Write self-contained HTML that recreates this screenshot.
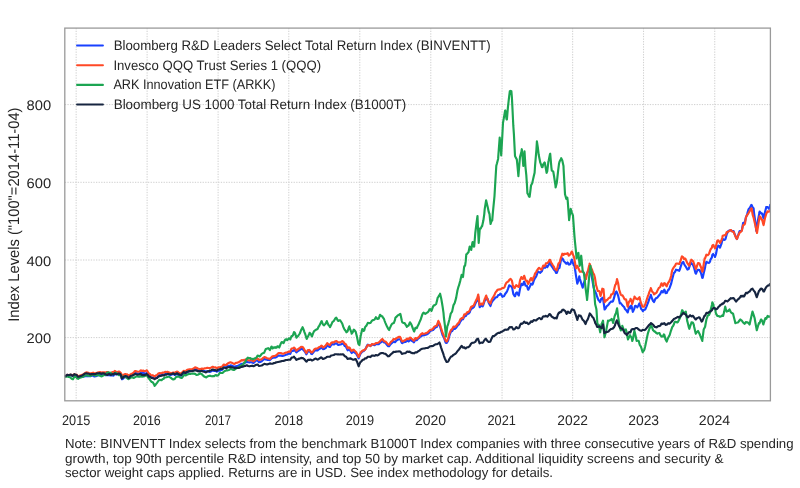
<!DOCTYPE html>
<html><head><meta charset="utf-8"><title>Index Levels</title><style>html,body{margin:0;padding:0;background:#fff;width:800px;height:488px;overflow:hidden}svg{display:block}text{font-family:"Liberation Sans", "DejaVu Sans", sans-serif;fill:#262626;text-rendering:geometricPrecision}</style></head><body>
<svg width="800" height="488" viewBox="0 0 800 488">
<rect width="800" height="488" fill="#fff"/>
<g stroke="#cfcfcf" stroke-width="1" stroke-dasharray="1.3 1.3" fill="none"><line x1="76.15" y1="28.1" x2="76.15" y2="400.8"/><line x1="147.10" y1="28.1" x2="147.10" y2="400.8"/><line x1="218.10" y1="28.1" x2="218.10" y2="400.8"/><line x1="288.80" y1="28.1" x2="288.80" y2="400.8"/><line x1="359.80" y1="28.1" x2="359.80" y2="400.8"/><line x1="430.80" y1="28.1" x2="430.80" y2="400.8"/><line x1="502.05" y1="28.1" x2="502.05" y2="400.8"/><line x1="572.66" y1="28.1" x2="572.66" y2="400.8"/><line x1="643.55" y1="28.1" x2="643.55" y2="400.8"/><line x1="714.76" y1="28.1" x2="714.76" y2="400.8"/><line x1="64.8" y1="104.6" x2="770.4" y2="104.6"/><line x1="64.8" y1="182.3" x2="770.4" y2="182.3"/><line x1="64.8" y1="260.0" x2="770.4" y2="260.0"/><line x1="64.8" y1="337.6" x2="770.4" y2="337.6"/></g>
<defs><clipPath id="cp"><rect x="64.8" y="28.1" width="705.60" height="372.70"/></clipPath></defs>
<g fill="none" stroke-width="2.15" stroke-linejoin="round" stroke-linecap="round" clip-path="url(#cp)">
<polyline stroke="#1941ff" points="64.5,376.2 64.5,376.2 65.9,376.3 66.0,376.0 67.2,374.9 68.6,375.5 69.9,375.5 70.0,375.5 71.3,375.4 72.7,375.7 74.0,375.2 74.0,375.2 75.4,375.7 76.7,376.0 77.0,376.5 78.1,377.6 79.5,377.1 80.8,376.6 81.0,376.5 82.2,376.6 83.5,376.6 84.9,376.3 85.0,376.2 86.3,376.1 87.6,376.3 89.0,376.2 89.0,376.2 90.3,376.3 91.7,375.8 93.1,375.7 94.4,376.5 94.5,376.5 95.8,376.3 97.0,375.8 97.1,375.7 98.5,375.0 99.9,374.9 100.0,375.0 101.2,375.4 102.6,374.6 103.9,374.0 104.0,374.0 105.3,375.1 106.7,375.1 107.5,375.2 108.0,375.1 109.4,375.3 110.5,375.5 110.7,375.5 112.1,375.3 113.5,375.6 114.8,373.7 115.0,373.8 116.2,374.5 117.5,374.2 118.9,373.6 120.0,374.0 120.3,374.2 121.2,375.0 121.6,377.3 122.0,379.2 123.0,378.7 124.3,377.5 125.7,377.0 126.0,377.0 127.1,376.6 128.4,376.9 129.8,376.1 130.0,376.0 131.1,375.3 132.5,375.0 133.9,373.9 135.0,372.8 135.2,372.7 136.6,373.2 137.9,373.6 139.3,373.6 140.0,373.2 140.7,372.6 141.0,372.4 142.0,373.1 143.4,372.5 144.1,373.3 144.7,373.5 146.1,373.4 146.6,373.0 147.5,373.5 148.8,375.3 150.2,376.5 150.3,376.7 151.5,377.8 152.9,377.4 154.3,377.7 154.6,378.0 155.6,377.7 157.0,377.9 158.3,376.0 159.5,375.2 159.7,375.1 161.1,374.9 162.4,374.2 163.8,375.0 165.1,374.0 165.6,374.0 166.5,374.2 167.9,373.6 169.2,374.7 170.6,375.0 171.7,374.6 171.9,374.5 173.3,373.8 174.7,374.9 174.8,374.9 176.0,374.4 176.7,374.1 177.2,373.9 177.4,374.0 178.7,375.3 180.1,375.7 181.3,375.7 181.5,375.5 182.8,374.1 183.8,373.1 184.1,373.2 184.2,373.2 185.5,373.7 186.9,372.5 188.3,371.7 188.4,371.6 189.6,371.2 191.0,370.8 192.3,371.0 192.7,370.7 193.7,370.2 195.1,369.2 196.4,369.5 197.8,370.3 198.4,370.5 199.1,370.8 200.5,370.7 201.9,370.8 203.2,371.1 204.2,371.0 204.6,371.0 205.9,371.8 207.3,371.3 208.7,371.5 209.9,371.9 210.0,371.8 211.4,371.2 212.7,370.4 214.1,370.9 215.5,370.9 215.6,370.8 216.8,371.7 218.2,370.8 219.0,370.6 219.5,370.7 220.0,370.7 220.9,370.1 222.3,369.8 223.6,367.6 225.0,367.3 226.3,367.0 227.3,366.2 227.7,366.1 229.1,365.9 230.4,365.4 231.8,365.6 233.0,366.2 233.1,366.2 234.5,366.8 235.9,366.4 237.2,366.1 238.6,365.4 238.8,365.4 239.9,364.7 241.3,364.1 242.0,363.8 242.7,364.1 244.0,363.3 245.4,362.6 246.1,362.1 246.7,361.7 248.1,362.3 249.5,362.4 250.2,362.2 250.8,362.3 252.2,362.4 253.5,363.0 253.5,363.0 254.9,361.7 256.3,360.5 257.6,360.5 257.6,360.5 259.0,362.2 260.3,361.9 261.7,361.3 262.5,360.5 263.1,360.0 264.4,358.9 265.8,359.5 265.8,359.5 267.1,359.8 268.5,359.8 269.9,360.1 269.9,360.1 271.2,358.7 272.4,357.8 272.6,357.9 273.9,357.3 275.0,357.6 275.3,357.4 276.7,356.9 278.0,355.8 278.6,355.5 279.4,355.6 280.7,355.5 282.1,355.9 282.3,356.0 283.5,355.7 284.8,355.3 286.2,354.6 287.2,354.5 287.5,354.3 288.9,353.5 290.3,353.9 290.9,352.3 291.6,350.9 293.0,350.9 294.0,350.0 294.3,350.1 295.7,351.5 296.4,352.4 297.1,351.7 298.4,350.8 299.5,350.1 299.8,350.0 301.1,348.7 302.5,349.1 302.6,349.0 303.9,350.6 305.2,352.1 306.3,354.3 306.6,354.0 307.9,351.5 309.3,351.4 309.4,351.3 310.7,352.6 311.2,353.7 312.0,354.1 313.4,352.4 314.3,351.0 314.7,350.7 316.1,350.1 317.5,350.5 318.0,350.0 318.8,349.2 320.2,348.5 321.5,347.4 321.7,347.5 322.9,349.2 324.1,349.0 324.3,348.8 325.6,348.1 327.0,346.0 327.2,345.7 328.3,346.1 329.7,347.0 330.0,346.9 331.1,345.0 332.4,344.1 333.0,344.3 333.8,344.5 335.1,343.6 336.3,343.3 336.5,343.3 337.9,344.8 339.0,344.8 339.2,344.7 340.6,344.5 341.9,344.0 342.1,343.7 343.3,343.5 344.7,346.0 345.0,346.0 346.0,346.7 347.4,349.7 347.7,350.3 348.7,349.7 349.7,349.7 350.1,350.5 351.5,352.8 351.7,353.0 352.8,351.5 353.7,351.5 354.2,352.3 355.5,353.2 356.3,353.8 356.9,355.0 358.3,357.6 358.6,358.3 359.6,355.9 360.7,353.3 361.0,353.1 362.3,351.5 363.0,351.0 363.7,351.1 365.0,349.8 365.1,349.6 366.4,347.3 367.0,345.7 367.8,344.6 369.1,345.4 370.3,345.7 370.5,346.0 371.9,344.4 373.2,344.8 373.7,345.0 374.6,345.2 375.9,343.9 377.0,344.2 377.3,344.2 378.7,344.2 379.7,343.3 380.0,342.8 381.4,342.0 382.3,341.0 382.7,341.2 383.1,341.5 384.1,342.5 385.5,342.8 386.2,343.8 386.8,344.7 388.2,346.2 389.2,346.2 389.5,345.7 390.9,343.9 392.3,342.7 392.3,342.7 393.6,341.5 395.0,342.2 396.2,340.8 396.3,340.8 397.7,339.6 399.1,339.2 400.0,339.2 400.4,339.4 401.8,342.9 402.3,343.1 403.1,342.5 404.5,341.9 405.4,341.9 405.9,341.7 407.2,340.5 408.5,341.3 408.6,341.4 409.9,340.0 410.8,340.0 411.3,340.5 412.7,341.2 413.8,342.3 414.0,342.2 415.4,339.6 416.7,340.2 416.9,340.0 418.1,338.5 419.5,337.6 420.0,336.9 420.8,336.4 422.2,335.3 423.1,335.4 423.5,335.1 424.9,335.1 426.2,334.6 426.3,334.6 427.6,334.0 429.0,332.7 429.2,332.3 430.3,331.1 431.7,330.4 433.1,330.0 433.1,330.0 434.4,328.5 435.8,327.2 436.9,326.9 437.1,326.4 438.4,322.4 438.5,322.7 439.9,326.0 441.0,329.8 441.2,330.4 442.6,335.3 443.8,337.2 443.9,337.5 445.3,341.6 445.7,342.7 446.6,343.0 446.7,342.8 448.0,340.9 448.5,339.0 449.4,335.6 450.7,332.2 451.2,331.5 452.1,331.1 453.5,328.7 454.8,329.0 455.8,328.0 456.2,327.8 457.5,325.7 458.0,325.2 458.9,324.5 460.3,321.5 461.3,320.3 461.6,319.5 463.0,319.3 464.3,316.3 464.6,316.2 465.7,316.1 467.1,314.0 467.9,313.8 468.4,313.7 469.8,312.2 470.3,310.5 471.1,309.1 472.5,307.9 472.8,308.0 473.9,307.0 475.2,304.0 475.2,304.0 476.6,301.1 477.0,301.0 477.9,297.8 478.2,296.5 479.3,304.5 479.7,307.2 480.7,306.3 482.0,305.6 482.6,306.4 483.4,304.8 484.7,300.7 485.0,300.4 486.1,299.4 487.5,298.7 487.5,298.6 488.8,302.9 490.2,305.5 490.5,306.0 491.5,302.8 492.9,300.4 493.0,300.4 494.3,299.0 495.5,297.4 495.6,297.4 497.0,297.2 498.0,295.5 498.3,295.1 499.7,294.7 500.4,293.7 501.1,294.2 502.4,296.8 503.8,296.1 504.1,296.1 505.1,294.0 506.5,292.3 507.1,291.2 507.9,289.1 509.2,285.4 510.2,285.7 510.6,286.3 511.9,286.6 512.7,290.6 513.3,293.9 514.7,296.2 515.1,296.1 516.0,293.2 517.0,292.4 517.4,293.2 518.7,295.5 518.8,295.5 520.1,288.4 521.3,283.8 521.5,284.1 522.8,285.0 523.7,282.6 524.2,281.6 525.5,285.7 525.6,285.7 526.9,285.8 528.0,289.4 528.3,289.7 529.6,287.2 530.5,285.1 531.0,283.7 532.3,284.7 533.0,283.2 533.7,280.9 535.1,277.8 535.4,277.7 536.4,276.0 537.8,271.9 537.9,271.5 539.1,272.1 540.3,272.8 540.5,272.4 541.9,271.2 542.8,268.5 543.2,267.8 544.6,267.7 545.0,267.8 545.9,265.7 547.3,267.2 547.5,266.5 548.7,264.9 549.6,262.3 550.0,262.4 551.4,265.9 552.7,267.7 552.7,267.7 554.1,269.8 555.5,271.4 556.0,273.0 556.8,272.9 558.2,268.9 558.7,268.3 559.5,267.8 560.9,260.4 562.3,258.4 563.3,259.7 563.6,261.0 565.0,262.2 566.3,263.7 566.7,263.7 567.7,262.5 568.7,264.3 569.1,264.6 570.4,264.0 571.8,259.6 572.0,259.7 573.1,263.5 574.5,266.3 574.7,267.0 575.9,275.2 577.2,283.0 577.3,283.7 578.6,279.9 579.3,276.3 579.9,279.0 581.3,283.4 582.7,287.6 582.7,287.7 584.0,282.7 585.3,279.0 585.4,278.8 586.7,274.0 588.1,271.1 589.5,267.9 589.6,267.7 590.8,272.9 592.0,277.7 592.2,279.0 593.5,287.2 594.7,291.0 594.9,290.9 596.3,294.0 596.7,295.4 597.6,298.0 598.4,299.9 599.0,300.5 600.1,302.2 600.3,301.7 601.2,298.8 601.7,298.4 602.9,297.7 603.1,298.8 604.4,308.0 604.6,309.5 605.8,308.0 606.8,306.1 607.1,306.1 608.5,304.7 609.1,303.9 609.9,302.7 611.2,301.5 611.3,301.6 612.6,301.7 613.0,301.1 613.9,298.4 614.7,295.4 615.3,292.9 616.4,291.5 616.7,292.0 618.0,295.3 618.1,295.4 619.4,301.3 619.8,303.3 620.7,303.0 622.1,305.0 622.1,305.0 623.5,306.4 624.3,307.3 624.8,308.7 626.0,310.1 626.2,310.1 627.5,312.2 627.7,312.4 628.9,307.8 629.4,306.7 630.3,308.3 631.1,305.6 631.6,306.1 632.8,311.8 633.0,311.5 634.3,308.6 635.0,306.1 635.7,305.8 637.1,307.0 637.3,307.3 638.4,305.5 639.5,303.3 639.8,304.5 641.1,308.8 641.2,309.0 642.5,310.3 642.9,311.2 643.9,309.9 645.2,309.5 645.2,309.5 646.6,306.4 647.9,302.9 648.0,302.8 649.3,298.8 650.7,295.6 650.8,294.9 652.0,298.5 653.1,301.1 653.4,300.9 654.0,302.0 654.7,300.6 655.0,299.5 656.1,298.1 657.3,297.7 657.5,297.4 658.8,295.7 660.0,294.3 660.2,294.1 661.5,291.2 662.0,291.0 662.9,292.3 664.3,289.7 664.7,290.3 665.6,293.1 666.7,293.0 667.0,292.3 668.3,289.6 668.7,289.7 669.7,287.7 671.1,283.9 671.3,283.0 672.4,278.6 673.3,275.0 673.8,273.3 675.1,271.7 676.0,269.7 676.5,270.0 677.9,270.0 678.0,270.3 679.2,270.8 680.0,269.0 680.6,266.9 681.9,263.2 682.0,263.0 683.3,261.9 684.0,263.7 684.7,265.1 686.0,267.0 686.0,267.0 687.4,269.6 688.7,269.0 688.7,268.9 690.1,264.6 691.3,263.0 691.5,263.6 692.8,264.6 693.3,265.7 694.2,268.2 695.5,273.1 696.0,273.7 696.9,271.3 698.0,269.7 698.3,269.7 699.6,270.0 700.0,271.0 701.0,272.9 702.3,277.9 702.7,277.7 703.7,273.2 705.1,267.5 705.3,265.7 706.4,261.9 707.3,262.3 707.8,262.7 709.1,262.9 710.0,261.7 710.5,259.6 711.9,257.4 712.3,255.0 713.2,254.0 714.6,256.0 715.0,257.0 715.9,254.5 717.3,247.0 718.3,245.6 718.7,245.8 720.0,247.7 721.4,243.9 722.3,240.3 722.7,238.9 724.1,240.0 725.0,239.6 725.5,238.9 726.8,233.9 728.2,231.2 728.3,231.0 729.5,230.5 730.9,230.2 731.0,230.3 732.3,231.3 733.6,231.0 733.6,231.0 735.0,235.0 736.3,238.1 737.0,239.0 737.7,236.7 739.1,232.5 739.7,231.0 740.4,231.2 741.8,230.5 743.0,223.6 743.1,222.9 744.5,222.4 745.0,221.6 745.9,217.4 747.2,214.5 747.6,212.3 748.6,209.2 749.9,207.8 751.3,204.9 751.6,205.0 752.7,207.5 753.6,208.3 754.0,212.6 755.4,222.5 756.3,231.0 756.7,228.8 758.1,219.4 759.5,212.3 759.6,211.6 760.8,212.9 761.6,213.6 762.2,213.5 763.5,218.4 763.6,218.3 764.9,212.6 766.3,207.1 766.3,207.0 767.6,207.1 769.0,208.9 770.3,205.0 770.3,204.9 771.0,205.0"/>
<polyline stroke="#ff4826" points="64.5,376.2 64.5,376.2 65.9,376.2 66.0,376.0 67.2,374.8 68.6,375.1 69.0,375.0 69.9,374.9 71.3,374.9 72.0,375.0 72.7,375.2 74.0,374.4 75.0,374.6 75.4,374.8 76.7,374.7 77.5,375.9 78.1,376.4 79.5,375.8 80.0,375.6 80.8,375.2 81.0,375.2 82.2,374.9 83.5,374.3 84.9,373.1 85.5,372.8 86.3,372.3 87.5,372.5 87.6,372.6 89.0,373.2 89.5,373.5 90.3,373.4 91.7,373.1 92.0,373.0 93.1,372.7 94.4,373.4 95.8,373.3 96.5,373.0 97.1,372.8 98.5,372.3 99.0,372.2 99.9,372.1 101.2,372.6 101.5,372.5 102.6,372.3 103.9,372.2 104.0,372.2 105.0,372.6 105.3,372.7 106.7,372.1 108.0,372.1 109.4,372.9 110.0,373.2 110.7,373.0 112.1,372.3 112.5,372.0 113.5,372.3 114.8,370.9 115.0,371.0 116.2,371.9 117.5,372.0 117.5,372.0 118.9,371.5 120.0,372.2 120.3,372.5 121.2,373.5 121.6,374.9 122.0,376.0 123.0,375.3 124.3,374.3 125.5,374.0 125.7,374.1 127.1,374.3 128.4,375.5 128.5,375.5 129.8,374.9 131.0,374.0 131.1,373.9 132.5,373.5 133.9,372.2 135.0,371.0 135.2,371.0 136.6,371.4 137.9,371.7 138.0,371.8 139.3,371.5 140.0,371.0 140.7,370.4 141.0,370.3 142.0,371.0 143.4,370.6 144.1,371.2 144.7,371.1 146.1,370.8 146.6,370.3 147.5,371.3 148.4,373.0 148.8,373.5 150.2,374.3 150.9,375.2 151.5,375.5 152.7,375.2 152.9,375.3 154.3,376.3 154.6,376.7 155.6,375.7 156.4,375.2 157.0,375.2 158.2,373.7 158.3,373.6 159.7,373.1 161.1,373.4 161.3,373.3 162.4,372.5 163.8,372.7 163.8,372.7 165.1,371.8 166.5,372.0 167.4,371.8 167.9,371.8 169.2,372.6 170.5,373.0 170.6,373.0 171.9,373.1 173.3,372.5 173.6,372.7 174.7,372.7 176.0,372.1 176.7,371.8 177.2,371.6 177.4,371.7 178.7,372.7 180.1,373.2 181.3,373.3 181.5,373.2 182.8,371.8 183.8,370.8 184.1,370.9 184.2,370.9 185.5,371.4 186.9,370.1 188.3,369.5 188.4,369.5 189.6,369.2 191.0,369.2 192.3,369.1 192.7,368.8 193.7,368.4 195.1,367.3 196.4,367.7 197.8,368.5 198.4,368.8 199.1,368.9 200.5,369.0 201.9,368.6 203.2,368.9 204.2,368.5 204.6,368.4 205.9,368.3 207.3,367.8 208.7,368.0 209.9,368.1 210.0,368.0 211.4,367.5 212.7,366.8 214.1,367.5 215.5,367.3 215.6,367.3 216.8,368.3 218.2,367.4 219.0,367.4 219.5,367.4 220.0,367.5 220.9,367.1 222.3,366.6 223.6,364.5 225.0,364.9 226.3,365.0 227.3,363.8 227.7,363.5 229.1,362.8 230.4,362.3 231.8,362.8 233.0,363.4 233.1,363.4 234.5,364.0 235.9,362.9 237.2,362.8 238.6,362.1 238.8,362.1 239.9,361.6 241.3,360.4 242.0,360.1 242.7,360.5 244.0,359.9 245.4,359.6 246.1,359.3 246.7,359.0 248.1,360.3 249.5,360.5 250.2,360.1 250.8,360.1 252.2,360.4 253.5,361.3 253.5,361.3 254.9,360.1 256.3,358.8 257.6,358.4 257.6,358.4 259.0,360.1 260.3,359.6 261.7,359.2 262.5,358.4 263.1,358.0 264.4,357.0 265.8,357.6 265.8,357.6 267.1,358.2 268.5,358.5 269.9,358.9 269.9,358.9 271.2,357.5 272.4,356.4 272.6,356.5 273.9,356.0 275.0,356.0 275.3,355.7 276.7,354.9 278.0,353.5 278.6,353.0 279.4,353.0 280.7,353.0 282.1,353.5 282.3,353.7 283.5,353.7 284.8,353.1 286.2,352.5 287.2,352.4 287.5,352.2 288.9,351.5 290.3,351.6 290.9,350.0 291.6,348.5 293.0,348.3 294.0,347.5 294.3,347.8 295.7,349.4 296.4,350.6 297.1,350.0 298.4,348.9 299.5,348.1 299.8,348.1 301.1,346.8 302.5,347.0 302.6,346.9 303.9,348.7 305.2,351.0 306.3,353.0 306.6,352.6 307.9,350.1 309.3,350.1 309.4,350.0 310.7,351.5 311.2,352.4 312.0,352.5 313.4,350.9 314.3,349.4 314.7,349.1 316.1,348.5 317.5,348.5 318.0,348.1 318.8,347.2 320.2,346.8 321.5,345.6 321.7,345.7 322.9,347.5 324.1,346.9 324.3,346.6 325.6,345.7 327.0,343.5 327.2,343.2 328.3,344.1 329.7,345.0 330.0,345.0 331.1,343.0 332.4,342.3 333.0,342.3 333.8,342.4 335.1,341.4 336.3,341.0 336.5,341.0 337.9,342.2 339.0,342.3 339.2,342.3 340.6,342.3 341.9,341.2 342.1,341.0 343.3,341.6 344.7,343.8 345.0,343.7 346.0,344.3 347.4,347.7 347.7,348.3 348.7,347.4 349.7,347.7 350.1,348.7 351.5,350.8 351.7,351.0 352.8,349.9 353.7,349.7 354.2,350.4 355.5,351.5 356.3,352.3 356.9,353.4 358.3,356.4 358.6,357.0 359.6,354.5 360.7,352.3 361.0,352.2 362.3,350.8 363.0,350.3 363.7,350.5 365.0,349.7 365.1,349.6 366.4,347.5 367.0,346.3 367.8,345.1 369.1,345.4 370.3,345.7 370.5,345.9 371.9,344.1 373.2,344.4 373.7,344.3 374.6,344.1 375.9,343.0 377.0,343.0 377.3,343.1 378.7,342.4 379.7,341.7 380.0,341.2 381.4,339.8 382.3,339.0 382.7,339.4 383.1,340.0 384.1,341.2 385.5,341.5 386.2,342.3 386.8,343.0 388.2,344.6 389.2,344.6 389.5,344.0 390.9,341.9 392.3,340.8 392.3,340.8 393.6,339.0 395.0,339.3 396.2,338.5 396.3,338.5 397.7,337.4 399.1,336.8 400.0,336.9 400.4,337.5 401.8,340.8 402.3,341.5 403.1,341.2 404.5,340.4 405.4,340.0 405.9,339.6 407.2,338.5 408.5,339.2 408.6,339.3 409.9,337.6 410.8,337.7 411.3,338.5 412.7,339.6 413.8,340.8 414.0,340.6 415.4,338.1 416.7,338.7 416.9,338.5 418.1,337.7 419.5,336.3 420.0,335.4 420.8,334.4 422.2,333.2 423.1,333.8 423.5,333.7 424.9,333.5 426.2,333.1 426.3,333.1 427.6,332.6 429.0,331.1 429.2,330.8 430.3,329.8 431.7,329.6 433.1,328.5 433.1,328.5 434.4,326.7 435.8,325.9 436.9,325.4 437.1,324.7 438.4,320.8 438.5,321.1 439.9,324.2 441.0,328.0 441.2,328.6 442.6,333.1 443.8,335.4 443.9,335.8 445.3,339.8 445.7,340.9 446.6,341.5 446.7,341.4 448.0,339.0 448.5,337.2 449.4,333.6 450.7,330.6 451.2,329.8 452.1,329.3 453.5,326.5 454.8,327.1 455.8,326.1 456.2,325.9 457.5,323.9 458.0,323.4 458.9,322.6 460.3,319.4 461.3,318.5 461.6,318.0 463.0,318.2 464.3,314.4 464.6,314.4 465.7,314.4 467.1,312.3 467.9,312.0 468.4,312.1 469.8,310.3 470.3,308.7 471.1,307.0 472.5,306.1 472.8,306.2 473.9,305.2 475.2,302.1 475.2,302.1 476.6,299.2 477.0,299.0 477.9,295.7 478.2,294.5 479.3,302.5 479.7,305.0 480.7,304.2 482.0,303.6 482.6,304.6 483.4,303.2 484.7,299.0 485.0,298.6 486.1,295.7 486.2,295.5 487.5,299.5 488.1,300.4 488.8,302.0 490.2,303.3 490.5,303.5 491.5,300.0 492.9,297.5 493.0,297.4 494.3,295.3 495.5,292.4 495.6,292.3 497.0,290.7 497.3,290.0 498.3,289.6 499.7,289.4 499.8,289.4 501.1,288.9 502.2,288.1 502.4,288.2 503.8,287.9 504.7,286.9 505.1,285.3 506.5,282.6 506.5,282.6 507.9,281.6 508.4,281.4 509.2,279.9 510.6,278.9 510.6,278.9 511.9,280.7 512.7,284.4 513.3,286.7 514.5,288.1 514.7,288.0 516.0,285.3 516.4,285.1 517.4,286.2 518.7,287.0 518.8,286.9 520.1,280.2 521.3,277.1 521.5,277.7 522.8,278.9 523.1,278.3 524.2,275.8 524.4,276.4 525.5,279.9 526.2,280.8 526.9,280.7 528.0,283.8 528.3,283.9 529.6,281.0 529.9,280.1 531.0,278.0 531.7,279.5 532.3,280.5 533.7,277.0 534.2,276.4 535.1,273.4 536.4,271.9 536.7,270.9 537.8,269.3 539.1,267.8 539.1,267.8 540.5,269.0 541.0,269.7 541.9,269.2 542.8,266.6 543.2,265.5 544.6,266.2 545.0,266.0 545.9,263.4 547.3,263.0 547.3,263.0 548.7,261.7 549.6,259.7 550.0,259.7 551.4,263.1 552.0,263.7 552.7,265.0 554.1,267.2 554.7,269.0 555.5,269.3 556.7,270.3 556.8,270.1 558.2,264.4 558.7,263.0 559.5,263.0 560.9,257.8 561.3,257.0 562.3,253.7 563.6,254.9 564.0,253.7 565.0,253.7 566.3,254.0 566.7,253.7 567.7,253.2 568.7,255.7 569.1,255.4 570.3,254.3 570.4,254.3 571.8,251.5 572.0,251.7 573.1,254.9 574.0,257.0 574.5,259.8 575.9,267.8 576.0,268.3 577.2,265.8 578.0,267.0 578.6,268.8 579.9,271.7 580.0,271.7 581.3,271.7 582.7,271.0 582.7,271.0 584.0,273.3 585.4,277.8 586.0,279.0 586.7,275.1 588.1,270.1 589.5,264.2 589.6,263.7 590.8,267.2 592.0,269.7 592.2,270.3 593.5,274.1 594.0,274.3 594.9,277.5 596.1,285.3 596.3,285.8 597.6,290.5 597.8,290.9 599.0,291.0 599.5,291.5 600.3,295.2 600.6,296.0 601.7,291.5 602.3,288.7 603.1,289.0 603.5,289.2 604.4,299.7 604.6,302.2 605.8,301.0 606.3,300.0 607.1,300.2 608.5,298.3 608.5,298.3 609.9,297.3 610.2,297.7 611.2,294.5 611.3,294.3 612.6,294.1 613.0,293.7 613.9,290.6 614.7,287.0 615.3,284.8 615.9,284.2 616.7,280.8 617.0,279.1 618.0,282.7 618.1,283.0 619.2,289.8 619.4,290.3 620.7,294.4 620.9,294.9 622.1,295.5 622.6,295.4 623.5,297.1 624.3,298.8 624.8,299.4 626.0,299.4 626.2,299.8 627.5,306.1 627.7,306.7 628.8,302.2 628.9,302.0 630.3,300.1 630.5,298.8 631.6,301.2 632.2,303.9 633.0,301.1 634.3,297.3 634.5,296.6 635.7,298.1 636.1,298.8 637.1,298.8 637.8,299.4 638.4,298.5 639.5,297.1 639.8,298.6 640.7,302.2 641.1,303.2 642.4,306.7 642.5,306.6 643.9,306.7 644.0,306.7 645.2,304.5 646.3,301.1 646.6,300.1 647.9,296.0 648.6,294.3 649.3,292.1 650.7,288.8 650.8,288.1 652.0,291.2 652.5,292.1 653.4,292.7 654.0,294.5 654.5,293.7 654.7,293.9 656.1,292.8 656.7,292.3 657.5,290.4 658.8,288.0 659.3,287.7 660.2,287.0 661.3,283.7 661.5,283.3 662.9,285.8 663.3,285.0 664.3,283.1 665.3,283.7 665.6,284.9 666.7,286.3 667.0,285.4 668.3,282.5 668.7,282.3 669.7,280.3 670.7,277.7 671.1,276.0 672.0,271.0 672.4,269.8 673.8,267.2 674.0,267.0 675.1,265.7 676.0,263.7 676.5,263.5 677.9,263.5 678.0,263.7 679.2,263.9 680.0,262.3 680.6,260.6 681.9,256.4 682.0,256.3 683.3,257.3 684.0,259.0 684.7,258.8 685.3,258.5 686.0,260.1 687.3,263.0 687.4,263.2 688.7,265.1 689.3,265.7 690.1,262.6 691.3,259.7 691.5,260.0 692.8,260.9 693.3,261.7 694.2,264.4 695.5,268.2 696.0,269.0 696.9,266.2 698.0,263.0 698.3,263.1 699.6,263.6 700.0,265.0 701.0,267.2 702.3,271.7 702.7,271.0 703.7,264.1 704.7,258.3 705.1,258.4 706.4,254.7 706.7,255.0 707.8,255.1 708.7,254.3 709.1,253.4 710.0,251.0 710.5,249.5 711.9,247.7 712.3,245.6 713.2,245.0 714.6,247.4 715.0,248.3 715.9,246.3 717.3,240.8 718.3,240.3 718.7,240.9 720.0,242.9 721.4,240.4 722.3,237.6 722.7,235.8 724.1,235.4 725.0,235.0 725.5,235.2 726.8,232.0 728.2,231.7 728.3,231.6 729.5,230.8 730.9,230.0 731.7,231.0 732.3,231.5 733.6,231.9 734.3,233.6 735.0,235.4 736.3,238.2 737.0,239.0 737.7,236.8 739.1,233.8 739.7,232.3 740.4,232.2 741.8,230.8 743.0,225.6 743.1,225.2 744.5,224.6 745.0,223.6 745.9,217.6 747.0,215.0 747.2,215.3 748.6,213.0 749.0,212.3 749.9,210.8 751.3,208.3 751.6,208.3 752.7,214.8 753.6,217.6 754.0,219.4 755.4,225.6 756.7,231.8 757.0,233.0 758.1,225.8 759.5,217.2 759.6,216.3 760.8,217.6 761.6,219.6 762.2,220.0 763.5,225.1 763.6,225.0 764.9,218.5 766.3,213.8 766.3,213.6 767.6,211.3 769.0,211.7 769.0,211.6 770.3,210.3 771.0,211.0"/>
<polyline stroke="#1ca552" points="64.5,376.2 64.5,376.2 65.5,376.5 65.9,376.8 67.2,376.2 68.6,377.0 69.0,377.0 69.9,377.2 71.0,378.0 71.3,378.5 72.7,379.2 73.0,379.2 74.0,377.2 75.0,376.2 75.4,376.8 76.7,377.6 77.0,378.2 78.1,378.8 79.5,377.9 80.5,377.5 80.8,377.4 82.2,376.9 83.0,376.8 83.5,376.4 84.9,375.3 85.0,375.2 86.3,375.4 87.0,375.5 87.6,375.6 89.0,375.7 89.0,375.8 90.3,376.0 91.7,375.2 92.0,375.0 93.1,374.7 94.4,375.0 95.8,375.7 96.0,375.5 97.1,374.8 98.5,375.2 99.9,375.6 100.0,375.8 101.2,376.4 102.6,375.9 103.9,375.0 104.0,375.0 105.0,375.0 105.3,375.0 106.7,373.0 108.0,372.4 109.0,372.5 109.4,372.9 110.7,372.9 112.1,374.0 112.5,374.2 113.5,374.3 114.8,373.0 116.0,372.8 116.2,372.9 117.5,374.2 118.9,375.1 119.0,375.2 120.3,375.2 121.0,375.0 121.6,376.2 122.2,377.5 123.0,377.2 124.3,376.7 125.0,376.5 125.7,377.0 127.1,378.1 128.4,379.2 128.5,379.2 129.8,378.4 131.0,377.5 131.1,377.5 132.5,377.4 133.9,377.9 135.0,377.2 135.2,377.1 136.6,376.4 137.5,376.2 137.9,376.6 139.3,376.6 140.0,376.8 140.5,375.2 140.7,375.3 142.0,376.7 143.4,376.3 143.5,376.4 144.7,376.1 146.1,375.3 146.6,374.9 147.5,376.3 148.4,378.0 148.8,378.4 150.2,380.2 150.3,380.4 151.5,381.9 152.7,382.2 152.9,382.5 154.3,384.9 154.6,385.9 155.6,384.7 157.0,382.9 157.0,382.9 158.3,381.0 159.5,379.8 159.7,379.8 161.1,380.2 161.9,380.1 162.4,379.2 163.8,378.7 164.4,377.6 165.1,377.5 166.5,377.3 167.9,376.7 168.1,376.7 169.2,376.8 170.5,377.6 170.6,377.7 171.9,378.7 173.3,379.5 173.3,379.5 174.7,379.0 176.0,377.0 176.0,377.0 177.4,376.6 178.7,376.6 179.0,376.5 180.1,377.5 181.5,377.9 181.7,378.0 182.8,376.7 184.2,374.9 184.6,374.8 185.5,375.5 186.9,374.7 188.0,374.2 188.3,374.1 189.6,373.8 191.0,373.8 192.3,373.7 192.8,373.5 193.7,373.6 195.1,373.9 196.4,374.9 196.5,375.0 197.8,374.7 199.1,374.1 200.2,373.3 200.5,373.6 201.9,374.2 203.0,375.5 203.2,375.7 204.6,376.8 205.9,377.3 206.3,377.3 207.3,376.6 208.7,376.1 209.2,375.8 210.0,375.7 211.4,376.2 212.5,376.3 212.7,376.0 214.1,376.2 215.5,375.2 216.0,375.0 216.8,375.7 218.2,375.2 218.3,375.2 219.5,373.2 219.9,372.8 220.9,372.9 222.3,373.0 223.2,372.4 223.6,371.8 225.0,370.9 226.3,370.5 226.5,370.3 227.7,370.3 229.1,370.0 229.8,369.5 230.4,368.9 231.8,369.3 233.0,369.9 233.1,369.8 234.5,369.8 235.9,368.6 236.3,368.3 237.2,367.9 238.6,367.1 239.6,366.6 239.9,366.4 241.3,365.4 242.7,365.0 242.9,364.6 244.0,363.1 245.3,361.7 245.4,361.5 246.7,359.0 247.8,357.6 248.1,357.9 249.5,358.2 250.2,358.0 250.8,358.7 252.2,358.8 252.7,359.3 253.5,358.9 254.9,358.3 255.2,358.4 256.3,357.7 257.6,355.6 257.6,355.6 259.0,356.1 259.7,356.4 260.3,355.9 261.7,353.9 261.7,353.9 263.1,353.1 264.2,352.7 264.4,352.1 265.8,349.0 265.8,349.0 267.1,348.6 268.3,348.2 268.5,348.4 269.9,350.2 269.9,350.2 271.2,347.0 271.6,346.6 272.6,348.5 273.9,347.4 275.0,347.8 275.3,347.2 276.7,347.7 277.3,346.3 278.0,346.4 279.2,347.5 279.4,347.2 280.7,343.8 281.7,342.0 282.1,342.1 283.5,343.2 283.5,343.2 284.8,340.3 285.4,339.5 286.2,339.2 287.2,340.1 287.5,339.9 288.9,338.3 289.1,338.3 290.3,339.4 290.9,337.7 291.6,336.0 292.1,336.4 293.0,335.1 294.0,332.1 294.3,332.2 295.2,333.4 295.7,335.4 296.4,337.7 297.1,336.9 298.3,335.8 298.4,335.5 299.8,333.5 300.8,330.9 301.1,330.1 302.5,327.6 302.6,327.2 303.9,330.4 304.4,332.1 305.2,334.0 306.6,338.6 306.7,338.9 307.9,336.6 308.1,336.4 309.3,333.7 309.6,332.8 310.7,333.8 311.8,336.4 312.0,336.3 313.4,332.5 314.3,330.9 314.7,330.7 316.1,329.7 317.4,329.1 317.5,329.1 318.8,326.3 319.2,326.0 320.2,323.9 321.5,321.2 321.7,321.1 322.9,324.5 324.1,325.4 324.3,324.9 325.6,323.8 326.8,321.1 327.0,321.6 328.3,324.7 329.7,326.2 330.0,327.2 331.1,325.1 332.4,322.1 333.7,321.0 333.8,321.0 335.1,318.7 336.3,317.7 336.5,317.9 337.9,320.7 338.3,321.0 339.2,320.4 340.3,320.3 340.6,321.0 341.9,323.0 342.3,323.7 343.3,326.9 344.3,329.0 344.7,329.7 346.0,331.2 346.3,332.3 347.4,331.6 347.7,331.0 348.7,327.7 349.3,326.3 350.1,329.3 350.6,330.3 351.5,332.7 351.7,333.7 352.8,332.1 353.7,329.7 354.2,329.8 355.5,331.5 355.7,331.7 356.9,336.5 357.0,337.0 358.3,343.5 358.3,343.7 359.4,345.0 359.6,343.7 360.7,335.7 361.0,334.6 362.3,329.0 362.3,329.0 363.7,330.9 364.3,330.3 365.1,327.1 366.3,325.7 366.4,325.7 367.8,322.9 369.0,323.0 369.1,323.1 370.5,323.0 371.7,321.0 371.9,320.7 373.2,320.0 374.3,319.7 374.6,319.6 375.9,317.2 377.0,318.3 377.3,318.9 378.7,318.6 379.7,315.7 380.0,314.8 381.4,316.1 382.3,316.3 382.7,317.1 384.1,319.2 384.6,320.8 385.5,323.1 386.8,326.1 386.9,326.2 388.2,328.8 389.2,330.0 389.5,328.9 390.9,325.9 391.5,324.6 392.3,323.6 393.6,322.9 393.8,323.1 395.0,319.9 395.4,317.7 396.3,316.9 397.7,315.4 397.7,315.4 399.1,314.7 400.3,313.8 400.4,314.1 401.8,320.4 402.3,322.3 403.1,322.7 404.5,323.2 404.6,323.1 405.9,325.1 406.9,326.9 407.2,326.2 408.6,325.5 409.9,322.4 410.0,322.3 411.3,324.3 412.3,326.9 412.7,328.2 414.0,331.3 414.2,331.5 415.4,327.8 416.2,327.7 416.7,328.2 418.1,325.1 418.5,324.6 419.5,322.1 420.8,319.2 420.8,319.2 422.2,314.8 423.1,313.1 423.5,312.6 424.9,313.7 425.4,313.8 426.3,313.2 427.6,312.4 427.7,312.3 429.0,310.6 429.5,309.2 430.3,309.1 431.5,310.8 431.7,310.3 433.1,306.3 433.8,305.4 434.4,305.5 435.8,304.3 436.2,303.8 437.1,300.2 437.7,297.7 438.5,296.6 439.9,294.2 440.1,293.7 441.2,298.4 442.0,303.0 442.6,306.7 443.5,312.8 443.9,317.5 444.9,325.5 445.3,329.4 446.0,336.5 446.7,330.8 447.4,325.9 448.0,324.7 449.4,319.4 449.8,317.7 450.7,313.7 451.5,312.5 452.1,311.6 453.5,305.0 453.9,304.6 454.8,302.8 456.2,297.6 456.4,296.4 457.5,290.2 458.6,286.3 458.9,285.8 460.3,280.6 460.6,279.2 461.6,274.9 462.9,277.0 463.0,276.8 464.0,268.0 464.3,266.1 465.1,265.7 465.7,261.4 466.3,254.4 467.1,253.8 468.4,252.3 468.5,252.2 469.7,246.5 469.8,246.8 471.1,249.7 471.2,250.0 472.5,242.3 472.6,242.0 473.9,246.7 474.2,246.5 475.2,234.0 475.3,233.0 476.6,222.5 477.5,216.0 477.9,225.8 478.7,243.0 479.3,235.4 479.8,228.5 480.7,228.6 482.0,225.8 482.1,226.2 483.4,220.3 484.3,213.8 484.7,209.1 486.1,200.3 486.1,200.3 487.5,206.2 487.7,207.0 488.8,212.2 489.5,214.0 490.2,220.8 490.6,224.0 491.5,220.9 492.2,220.6 492.9,212.4 494.3,198.1 494.5,196.0 495.6,177.0 496.3,165.7 497.0,163.2 498.1,158.9 498.3,156.1 499.7,137.5 499.7,137.5 501.1,153.3 501.2,155.5 502.4,134.3 503.0,122.8 503.8,118.4 505.1,110.6 505.3,110.4 506.5,119.0 506.9,119.5 507.9,107.6 508.7,100.3 509.2,96.2 509.8,91.3 510.6,90.9 511.4,91.3 511.9,97.6 512.5,109.3 513.3,125.7 513.9,134.1 514.7,149.9 515.0,156.0 516.0,158.1 516.8,159.3 517.4,165.2 518.4,176.2 518.7,172.2 520.0,157.0 520.1,156.5 521.5,151.6 521.8,149.2 522.8,159.9 523.3,166.0 524.2,154.5 524.5,151.4 525.5,167.3 526.3,175.1 526.9,184.0 527.4,193.1 528.3,194.7 529.0,196.5 529.6,196.8 530.8,187.5 531.0,185.4 532.3,182.9 533.0,179.6 533.7,176.6 534.6,172.8 535.1,165.3 536.4,149.8 536.9,141.3 537.8,147.1 538.7,154.8 539.1,156.8 540.3,162.7 540.5,163.0 541.9,167.2 542.5,167.2 543.2,164.3 544.6,162.5 544.8,162.7 545.9,168.8 546.6,172.8 547.3,171.0 548.4,161.6 548.7,160.5 550.0,153.9 550.2,153.7 551.4,167.6 551.8,170.6 552.7,171.1 553.3,171.7 554.1,176.5 555.5,185.9 555.6,187.5 556.8,182.7 557.4,177.4 558.2,170.1 559.0,163.8 559.5,161.8 560.9,158.9 561.2,158.2 562.3,160.5 563.5,166.0 563.6,168.8 565.0,193.9 565.0,194.3 566.3,198.9 567.3,197.6 567.7,200.6 569.1,219.7 569.1,220.2 570.4,211.1 570.7,208.9 571.8,212.3 573.0,215.7 573.1,217.4 574.5,236.7 574.8,240.0 575.9,250.8 576.6,258.5 577.2,254.7 578.4,252.9 578.6,255.0 579.7,265.8 579.9,264.9 581.2,255.7 581.3,256.5 582.7,271.0 582.7,271.4 584.0,273.2 584.0,273.4 585.4,286.5 585.8,289.8 586.7,296.7 587.1,300.0 588.1,289.2 589.0,278.7 589.5,273.7 590.4,265.8 590.8,268.2 592.2,274.5 592.3,275.0 593.5,284.7 593.8,286.1 594.9,301.2 595.1,304.0 596.3,308.7 596.5,310.1 597.4,324.0 597.6,324.0 598.8,324.9 599.0,326.2 600.2,332.3 600.3,331.4 601.6,324.0 601.7,323.8 603.0,320.7 603.1,321.4 604.4,336.3 604.5,337.3 605.8,332.2 606.2,330.4 607.1,325.6 608.0,320.7 608.5,320.9 609.9,320.3 609.9,320.3 611.2,319.5 611.7,318.9 612.6,321.1 613.1,323.0 613.9,319.6 614.5,316.6 615.3,314.3 615.9,313.4 616.7,310.1 617.1,308.3 618.0,315.7 618.0,315.9 619.4,324.9 619.6,326.7 620.7,330.1 620.9,330.4 622.1,326.6 622.3,325.8 623.5,329.0 623.7,330.0 624.8,330.5 625.8,329.4 626.2,330.5 627.5,337.1 628.0,339.4 628.9,337.5 630.1,335.1 630.3,335.7 631.6,337.8 632.3,340.9 633.0,338.6 634.3,331.1 634.4,330.8 635.7,336.2 636.6,340.9 637.1,340.7 638.4,340.8 638.7,340.9 639.8,345.0 640.9,346.6 641.1,347.2 642.5,351.6 642.7,352.3 643.9,350.4 644.4,349.5 645.2,346.2 646.6,339.5 646.6,339.4 647.9,333.3 648.7,330.8 649.3,329.0 650.7,326.3 650.9,325.1 652.0,327.2 653.0,330.1 653.4,330.4 654.7,331.7 655.2,331.6 656.1,332.9 657.3,333.7 657.5,333.2 658.8,333.1 659.5,333.0 660.2,334.9 661.5,336.5 661.6,336.6 662.9,336.5 663.8,334.4 664.3,334.8 665.6,339.6 666.7,341.6 667.0,340.7 668.3,337.3 668.8,336.6 669.7,335.0 671.0,330.5 671.1,330.4 672.4,326.7 673.1,326.0 673.8,324.6 674.6,322.2 675.1,321.7 676.5,322.0 677.3,322.5 677.9,321.9 679.2,319.4 680.0,318.0 680.6,316.1 681.9,311.1 682.2,310.2 683.3,311.8 684.3,313.7 684.7,313.1 685.8,311.6 686.0,312.9 687.2,320.9 687.4,321.6 688.7,326.8 689.4,328.8 690.1,326.4 691.5,322.5 691.5,322.3 692.8,322.5 693.7,324.5 694.2,327.0 695.5,332.8 695.8,333.8 696.9,332.0 698.0,331.0 698.3,331.4 699.6,333.9 700.1,335.3 701.0,337.4 702.3,341.0 702.3,340.7 703.7,329.5 703.7,329.5 705.1,326.8 705.9,322.3 706.4,319.5 707.8,315.6 708.0,315.2 709.1,314.9 710.2,312.3 710.5,310.4 711.9,304.9 712.3,302.3 713.2,304.2 713.8,306.6 714.6,308.3 715.2,309.4 715.9,313.4 717.3,315.9 717.3,315.9 718.7,316.1 720.0,316.8 720.2,316.6 721.4,316.2 722.7,315.2 723.1,315.9 724.1,312.1 725.2,306.6 725.5,308.1 726.7,311.6 726.8,311.4 728.2,311.0 728.8,310.2 729.5,309.4 730.9,312.2 731.0,312.3 732.3,313.3 733.1,313.7 733.6,315.9 735.0,321.6 735.3,323.1 736.3,322.8 737.7,322.5 738.1,322.3 739.1,321.0 740.3,319.5 740.4,319.7 741.8,320.7 742.5,321.6 743.1,322.5 744.5,323.8 744.6,323.8 745.9,322.0 747.2,322.5 747.5,322.3 748.6,323.2 749.6,324.5 749.9,323.0 751.3,316.7 752.5,311.6 752.7,312.2 754.0,316.2 754.6,318.0 755.4,322.7 756.7,329.8 756.8,330.2 758.1,325.7 758.9,323.1 759.5,323.3 760.8,319.8 761.1,319.5 762.2,320.7 763.3,324.5 763.5,324.0 764.9,319.4 765.4,318.0 766.3,318.8 767.6,315.9 767.6,315.9 769.0,316.8 770.3,316.4 770.5,316.6"/>
<polyline stroke="#162540" points="64.5,376.2 64.5,376.2 65.5,375.8 65.9,376.0 67.2,374.9 68.0,375.0 68.6,375.1 69.9,374.7 70.5,374.5 71.3,375.0 72.5,375.8 72.7,375.7 74.0,374.4 74.5,374.2 75.4,374.7 76.0,374.8 76.7,375.0 77.5,376.2 78.1,376.7 79.5,376.5 80.5,376.0 80.8,375.9 82.2,375.4 83.0,375.0 83.5,374.6 84.9,373.6 85.0,373.5 86.3,373.4 87.5,373.6 87.6,373.6 89.0,373.7 90.0,374.2 90.3,374.4 91.7,374.1 93.0,374.0 93.1,374.0 94.4,374.1 95.8,373.9 96.0,373.8 97.1,373.3 98.5,373.2 99.0,373.2 99.9,373.1 101.2,373.8 102.0,373.5 102.6,373.4 103.9,373.3 104.0,373.3 105.0,374.0 105.3,374.3 106.7,374.7 107.5,375.0 108.0,374.4 109.0,373.8 109.4,374.0 110.7,374.9 111.0,375.0 112.1,374.2 113.0,374.0 113.5,374.3 114.8,373.4 115.0,373.5 116.2,374.1 117.5,374.0 117.5,374.0 118.9,373.4 120.0,373.8 120.3,374.1 121.0,375.5 121.6,378.0 121.8,378.5 123.0,377.6 123.5,377.0 124.3,376.5 125.5,376.0 125.7,376.0 127.1,376.6 127.5,377.0 128.4,377.8 128.8,378.0 129.8,376.9 130.5,376.0 131.1,375.7 132.5,375.5 132.5,375.5 133.9,374.8 135.0,374.0 135.2,373.9 136.6,374.4 137.0,374.5 137.9,374.6 139.3,374.3 140.0,374.0 140.7,373.9 141.0,374.0 142.0,375.0 143.4,375.1 143.5,375.2 144.7,374.9 146.1,374.6 146.6,374.0 147.5,374.7 148.8,376.5 149.0,376.7 150.2,376.9 151.5,378.0 152.1,378.0 152.9,378.2 154.3,378.9 154.6,379.2 155.6,378.6 157.0,378.1 157.6,377.3 158.3,376.7 159.7,376.0 161.1,375.9 161.3,375.8 162.4,375.2 163.8,375.5 165.1,374.7 165.6,374.6 166.5,374.6 167.9,373.9 168.7,374.0 169.2,374.2 170.6,374.2 171.9,374.0 172.4,373.7 173.3,373.3 174.7,374.3 174.8,374.3 176.0,373.8 177.0,373.3 177.4,373.5 178.7,374.3 180.1,374.7 181.3,374.9 181.5,374.7 182.8,373.0 183.8,372.0 184.1,372.4 184.2,372.4 185.5,372.9 186.9,372.0 188.0,371.5 188.3,371.4 189.6,371.1 191.0,371.2 192.3,371.1 192.7,370.9 193.7,370.7 195.1,370.3 196.4,370.5 197.0,370.9 197.8,371.1 199.1,371.4 200.5,371.3 201.3,370.9 201.9,371.0 203.2,371.5 204.6,371.8 205.6,372.4 205.9,372.4 207.3,371.4 208.5,371.2 208.7,371.2 210.0,370.5 211.3,370.2 211.4,370.2 212.7,369.5 214.1,370.1 215.0,370.0 215.5,370.2 216.8,370.7 218.2,369.5 218.5,369.5 219.5,369.3 220.0,369.1 220.9,368.7 222.3,368.9 223.6,367.5 225.0,367.7 226.3,368.3 227.3,367.5 227.7,367.3 229.1,367.2 230.4,366.9 231.8,367.2 233.0,367.5 233.1,367.5 234.5,368.1 235.9,367.9 237.2,368.0 238.6,367.8 238.8,367.9 239.9,367.6 241.3,366.9 242.0,366.6 242.7,366.8 244.0,366.1 245.4,365.9 246.7,365.3 247.8,365.8 248.1,366.0 249.5,366.3 250.8,366.0 252.2,365.7 253.5,366.2 253.5,366.2 254.9,365.5 256.3,364.8 257.6,364.6 257.6,364.6 259.0,366.0 260.3,365.8 261.7,365.5 262.5,365.0 263.1,364.6 264.4,363.8 265.8,364.2 265.8,364.2 267.1,364.4 268.5,363.9 269.9,363.4 269.9,363.4 271.2,363.7 272.6,363.7 273.9,363.1 275.0,363.0 275.3,362.7 276.2,362.3 276.7,362.3 278.0,362.0 279.4,361.7 280.7,361.4 282.1,361.0 282.3,361.0 283.5,360.9 284.8,360.4 286.2,360.0 287.5,359.9 288.5,359.8 288.9,359.7 290.3,359.7 291.6,357.6 293.0,357.5 294.0,356.7 294.3,357.1 295.7,358.8 296.4,359.8 297.1,359.4 298.4,358.9 299.5,358.6 299.8,358.6 301.1,357.9 302.5,358.1 302.6,358.0 303.9,358.8 305.2,360.3 306.3,361.7 306.6,361.5 307.9,359.8 309.3,359.9 309.4,359.8 310.7,359.6 312.0,360.5 312.4,360.4 313.4,359.8 314.7,358.9 315.5,358.6 316.1,358.8 317.5,359.6 318.6,359.2 318.8,358.9 320.2,358.0 321.0,357.4 321.5,357.5 322.9,358.9 324.1,358.6 324.3,358.4 325.6,358.0 327.0,356.9 327.2,356.7 328.3,356.7 329.7,356.8 330.0,356.7 331.1,355.5 332.4,355.3 333.7,355.0 333.8,355.0 335.1,354.2 336.5,354.2 337.9,354.5 338.3,354.3 339.2,354.5 340.6,354.4 341.9,354.5 342.1,354.3 343.3,354.3 344.7,356.2 345.0,356.3 346.0,356.7 347.4,358.6 347.7,359.0 348.7,358.6 350.1,358.4 350.3,358.3 351.5,359.0 352.8,359.5 353.0,359.7 354.2,359.6 355.5,359.0 355.7,359.0 356.9,361.5 357.3,362.3 358.3,365.3 358.6,366.3 359.6,363.9 360.3,362.3 361.0,361.7 362.3,360.2 363.0,359.7 363.7,359.7 365.1,358.3 366.3,358.3 366.4,358.2 367.8,356.8 369.1,356.7 370.3,357.0 370.5,357.1 371.9,355.6 373.2,355.6 374.3,355.7 374.6,355.8 375.9,355.0 377.3,355.4 378.3,355.0 378.7,354.8 380.0,353.6 381.4,353.1 382.3,353.0 382.7,353.0 383.1,353.1 384.1,353.7 385.5,353.8 386.2,354.6 386.8,355.2 388.2,356.3 389.2,356.2 389.5,355.8 390.9,354.3 392.3,353.1 392.3,353.1 393.6,351.9 395.0,352.0 396.2,351.5 396.3,351.6 397.7,351.5 399.1,351.4 400.0,351.5 400.4,351.5 401.8,353.8 402.3,353.8 403.1,353.5 404.5,353.2 405.4,353.1 405.9,352.8 407.2,351.5 408.6,352.0 409.2,351.5 409.9,351.8 411.3,352.8 412.3,353.1 412.7,353.0 414.0,353.3 415.4,352.3 415.4,352.3 416.7,352.3 418.1,351.3 419.5,350.6 420.0,350.0 420.8,349.4 422.2,348.7 423.5,348.5 424.6,348.5 424.9,348.3 426.3,348.0 427.6,348.0 429.0,347.1 429.2,346.9 430.3,346.3 431.7,346.1 433.1,345.9 433.8,345.4 434.4,344.9 435.8,344.2 437.1,344.2 437.7,343.8 438.5,343.4 439.5,342.5 439.9,343.6 441.0,347.3 441.2,347.9 442.6,352.0 443.0,352.9 443.9,355.8 444.9,358.7 445.3,359.4 446.6,362.0 446.7,362.0 448.0,361.7 448.5,361.0 449.4,359.0 450.7,357.0 451.2,356.6 452.1,356.3 453.5,354.8 454.0,354.7 454.8,354.2 455.5,353.6 456.2,353.0 457.5,351.1 458.5,350.0 458.9,349.7 460.3,347.6 461.6,345.8 461.7,345.8 463.0,347.7 464.3,347.3 465.2,348.4 465.7,348.5 467.1,347.3 468.4,347.1 469.8,346.0 470.4,344.8 471.1,343.7 472.5,342.7 473.9,342.7 475.2,341.9 475.4,341.7 476.6,339.5 477.9,338.8 478.0,338.7 479.3,342.5 479.6,343.3 480.7,342.8 482.0,342.5 482.6,342.8 483.4,341.8 484.7,339.7 485.7,338.7 486.1,339.2 487.5,341.2 488.8,342.0 490.2,341.7 490.3,341.7 491.5,338.6 492.9,336.1 492.9,336.1 494.3,335.9 495.6,334.9 497.0,333.6 497.0,333.6 498.3,332.8 499.7,332.9 500.0,332.7 501.1,331.9 502.4,331.5 503.3,330.7 503.8,330.5 505.1,329.6 506.5,329.8 506.6,329.8 507.9,329.4 508.2,329.4 509.2,327.6 510.2,327.0 510.6,327.3 511.9,327.0 512.3,327.8 513.3,329.4 514.7,329.1 514.8,329.0 516.0,327.3 516.4,327.0 517.4,328.0 517.6,328.2 518.7,328.1 519.3,327.4 520.1,325.0 520.9,323.7 521.5,324.0 522.5,323.3 522.8,323.4 524.2,321.6 524.2,321.6 525.5,322.9 526.2,322.9 526.9,322.5 528.3,324.1 528.3,324.1 529.6,323.3 530.3,322.5 531.0,321.3 532.3,321.9 532.8,321.2 533.7,320.1 535.1,320.3 535.2,320.4 536.4,320.4 537.3,319.2 537.8,319.0 539.1,318.0 539.3,318.0 540.5,318.6 541.0,319.2 541.9,318.7 542.6,317.1 543.2,316.4 544.6,316.5 544.7,316.5 545.9,315.8 546.7,316.3 547.3,316.7 548.7,315.2 549.2,314.3 550.0,314.1 550.8,315.1 551.4,316.3 552.5,317.1 552.7,317.1 554.1,318.2 554.5,318.4 555.5,317.8 556.6,318.4 556.8,318.0 557.8,314.7 558.2,313.9 559.0,312.6 559.5,312.9 560.0,312.2 560.9,311.6 561.2,312.0 562.3,309.9 563.5,309.7 563.6,310.0 565.0,310.9 565.3,311.1 566.3,313.3 566.7,313.9 567.7,311.7 568.1,311.6 569.1,312.8 570.0,313.0 570.4,312.5 571.8,309.5 572.3,309.3 573.1,309.8 574.1,310.2 574.5,311.4 575.9,315.4 576.0,315.7 577.2,319.5 577.3,319.9 578.6,315.8 578.7,315.3 579.9,315.8 580.6,315.7 581.3,317.1 582.4,319.4 582.7,319.7 583.8,320.8 584.0,321.0 585.4,323.8 585.6,324.0 586.7,320.9 587.5,319.9 588.1,318.5 589.5,314.3 589.8,313.4 590.8,314.7 591.6,315.7 592.2,316.8 593.5,318.0 593.5,318.1 594.9,321.6 595.3,323.1 596.3,324.7 597.1,326.8 597.6,327.0 599.0,326.5 599.7,326.3 600.3,327.1 601.6,328.1 601.7,327.8 603.0,324.4 603.1,324.8 604.4,333.2 604.4,333.2 605.8,332.3 606.2,331.8 607.1,332.0 608.5,331.5 609.0,330.9 609.9,329.8 611.2,328.9 611.3,329.0 612.6,328.8 613.1,328.1 613.9,327.4 615.0,325.3 615.3,324.0 616.7,320.7 616.8,320.3 618.0,323.3 618.6,324.9 619.4,326.4 620.5,328.1 620.7,328.2 622.1,328.6 622.3,328.6 623.5,330.5 624.2,332.0 624.8,333.2 626.2,334.0 626.6,334.9 627.5,334.2 628.9,332.2 629.4,332.1 630.3,332.5 631.6,329.5 632.1,329.3 633.0,329.0 634.3,329.1 635.7,328.1 635.8,328.0 637.1,328.0 638.4,329.3 638.7,329.4 639.8,330.3 641.1,330.7 641.6,330.8 642.5,329.9 643.9,330.0 644.4,330.1 645.2,329.8 646.6,328.1 647.3,327.3 647.9,326.5 649.3,324.8 650.7,323.6 650.9,323.0 652.0,323.9 653.4,325.0 653.8,325.8 654.7,326.9 656.1,327.1 656.6,327.3 657.5,326.6 658.8,326.1 660.2,325.8 660.2,325.8 661.5,323.6 662.9,324.1 663.1,323.7 664.3,323.1 665.6,324.9 667.0,324.3 667.4,324.4 668.3,323.2 669.7,323.6 670.3,323.0 671.1,322.3 672.4,320.8 673.1,320.1 673.8,319.0 675.1,318.5 675.7,318.0 676.5,317.7 677.9,316.8 678.6,317.3 679.2,317.6 680.6,316.1 681.5,315.2 681.9,314.7 683.3,313.0 683.6,313.0 684.7,313.8 685.8,314.5 686.0,314.8 687.4,317.0 687.9,317.3 688.7,316.7 690.1,315.2 690.1,315.2 691.5,316.5 692.8,315.8 693.0,315.9 694.2,317.6 695.5,319.4 695.8,319.5 696.9,318.3 698.3,317.6 698.7,317.3 699.6,317.6 701.0,320.3 701.6,321.6 702.3,321.1 703.7,317.6 704.4,315.9 705.1,315.7 706.4,312.9 707.3,313.0 707.8,313.0 709.1,312.1 710.2,311.6 710.5,311.2 711.9,310.4 712.3,309.4 713.2,308.1 714.5,308.0 714.6,308.0 715.9,309.3 717.3,308.7 717.3,308.7 718.7,306.7 720.0,305.6 720.2,305.1 721.4,304.6 722.7,303.4 723.1,303.7 724.1,302.8 725.2,300.8 725.5,300.9 726.8,301.0 727.4,301.5 728.2,300.8 729.5,299.4 730.3,298.7 730.9,298.2 732.3,298.4 733.1,298.0 733.6,298.0 735.0,300.1 736.0,301.5 736.3,301.3 737.7,299.6 738.9,298.7 739.1,298.5 740.4,296.9 741.0,295.8 741.8,296.6 743.1,295.7 743.9,296.5 744.5,295.8 745.9,292.9 746.8,292.9 747.2,293.3 748.6,291.9 749.6,291.5 749.9,291.1 751.3,289.2 752.5,288.6 752.7,289.0 754.0,291.0 754.6,291.5 755.4,293.3 756.7,297.1 756.8,297.2 758.1,293.3 759.0,290.8 759.5,290.5 760.8,288.7 761.1,288.6 762.2,289.0 763.5,291.5 764.0,291.5 764.9,289.5 766.1,287.2 766.3,287.1 767.6,285.6 769.0,285.5 769.7,284.3 770.3,284.0 770.5,284.0"/>
</g>
<rect x="64.8" y="28.1" width="705.6" height="372.7" fill="none" stroke="#9a9a9a" stroke-width="1.3"/>
<line x1="77.1" y1="45.45" x2="102.9" y2="45.45" stroke="#1941ff" stroke-width="2.1" stroke-linecap="round"/>
<text x="113.7" y="50.1" font-size="13.7" textLength="376.9" lengthAdjust="spacingAndGlyphs">Bloomberg R&amp;D Leaders Select Total Return Index (BINVENTT)</text>
<line x1="77.1" y1="65.2" x2="102.9" y2="65.2" stroke="#ff4826" stroke-width="2.1" stroke-linecap="round"/>
<text x="113.4" y="69.7" font-size="13.7" textLength="207.7" lengthAdjust="spacingAndGlyphs">Invesco QQQ Trust Series 1 (QQQ)</text>
<line x1="77.1" y1="84.9" x2="102.9" y2="84.9" stroke="#1ca552" stroke-width="2.1" stroke-linecap="round"/>
<text x="113.4" y="89.3" font-size="13.7" textLength="162.1" lengthAdjust="spacingAndGlyphs">ARK Innovation ETF (ARKK)</text>
<line x1="77.1" y1="104.45" x2="102.9" y2="104.45" stroke="#162540" stroke-width="2.1" stroke-linecap="round"/>
<text x="113.7" y="108.9" font-size="13.7" textLength="292.5" lengthAdjust="spacingAndGlyphs">Bloomberg US 1000 Total Return Index (B1000T)</text>
<text x="51.2" y="110.3" font-size="14" text-anchor="end" textLength="24.6" lengthAdjust="spacingAndGlyphs">800</text>
<text x="51.2" y="188.0" font-size="14" text-anchor="end" textLength="24.6" lengthAdjust="spacingAndGlyphs">600</text>
<text x="51.2" y="265.7" font-size="14" text-anchor="end" textLength="24.6" lengthAdjust="spacingAndGlyphs">400</text>
<text x="51.2" y="343.3" font-size="14" text-anchor="end" textLength="24.6" lengthAdjust="spacingAndGlyphs">200</text>
<text x="76.15" y="425" font-size="14" text-anchor="middle" textLength="28.3" lengthAdjust="spacingAndGlyphs">2015</text>
<text x="146.90" y="425" font-size="14" text-anchor="middle" textLength="27.8" lengthAdjust="spacingAndGlyphs">2016</text>
<text x="218.05" y="425" font-size="14" text-anchor="middle" textLength="26.1" lengthAdjust="spacingAndGlyphs">2017</text>
<text x="288.85" y="425" font-size="14" text-anchor="middle" textLength="28.5" lengthAdjust="spacingAndGlyphs">2018</text>
<text x="359.85" y="425" font-size="14" text-anchor="middle" textLength="28.3" lengthAdjust="spacingAndGlyphs">2019</text>
<text x="430.50" y="425" font-size="14" text-anchor="middle" textLength="31.2" lengthAdjust="spacingAndGlyphs">2020</text>
<text x="501.65" y="425" font-size="14" text-anchor="middle" textLength="28.3" lengthAdjust="spacingAndGlyphs">2021</text>
<text x="572.65" y="425" font-size="14" text-anchor="middle" textLength="30.7" lengthAdjust="spacingAndGlyphs">2022</text>
<text x="643.65" y="425" font-size="14" text-anchor="middle" textLength="30.9" lengthAdjust="spacingAndGlyphs">2023</text>
<text x="714.50" y="425" font-size="14" text-anchor="middle" textLength="31.4" lengthAdjust="spacingAndGlyphs">2024</text>
<text transform="translate(18.6,321.8) rotate(-90)" font-size="15.4" textLength="214.3" lengthAdjust="spacingAndGlyphs">Index Levels ("100"=2014-11-04)</text>
<text x="65.0" y="448.2" font-size="13.2" textLength="728.5" lengthAdjust="spacingAndGlyphs">Note: BINVENTT Index selects from the benchmark B1000T Index companies with three consecutive years of R&amp;D spending</text>
<text x="65.0" y="462.7" font-size="13.2" textLength="658.6" lengthAdjust="spacingAndGlyphs">growth, top 90th percentile R&amp;D intensity, and top 50 by market cap. Additional liquidity screens and security &amp;</text>
<text x="65.0" y="477.1" font-size="13.2" textLength="488.0" lengthAdjust="spacingAndGlyphs">sector weight caps applied. Returns are in USD. See index methodology for details.</text>
</svg></body></html>
